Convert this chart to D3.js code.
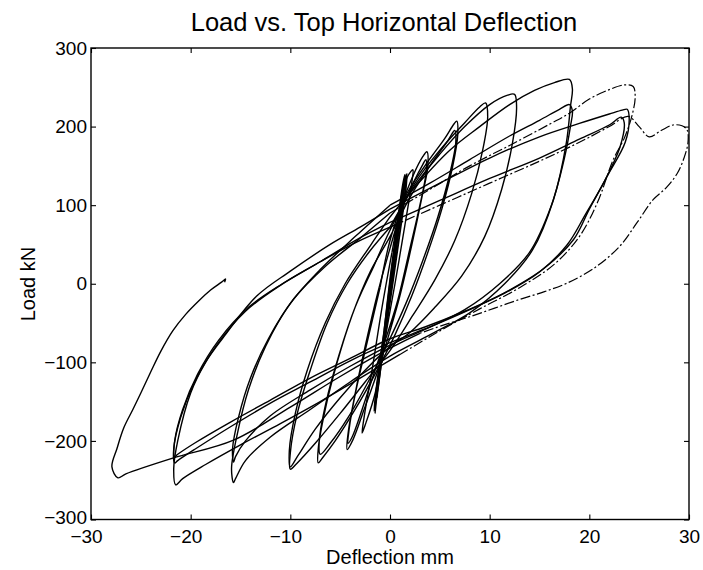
<!DOCTYPE html>
<html><head><meta charset="utf-8">
<script src="https://cdn.jsdelivr.net/npm/d3@7"></script>
<style>body{margin:0;background:#fff}svg{display:block}</style></head>
<body><svg id="c" width="703" height="570"></svg>
<script>
const xTicks=[-30,-20,-10,0,10,20,30];
const yTicks=[-300,-200,-100,0,100,200,300];
// Load (kN) vs deflection (mm), in test order
const stage0=[[0,0],[0.4,45],[0.8,90],[0.5,50],[0,0],[-0.4,-50],[-0.8,-100],[-0.5,-60],[0,-5],[0.6,60],[1.2,120],[1.0,95],[0.3,20],[-0.3,-40],[-1.0,-115],[-1.3,-145],[-1.0,-110],[-0.2,-15],[0.6,65],[1.3,128],[1.5,139],[1.4,115],[0.6,40],[-0.4,-50],[-1.2,-130],[-1.5,-165],[-1.3,-140],[-0.5,-55],[0.3,30],[1.1,105],[1.5,135],[1.3,112],[0.4,30],[-0.6,-70],[-1.3,-140],[-1.6,-162],[-1.4,-135],[-0.4,-45]];
const stage0b=[[0.5,45],[1.2,115],[1.6,138],[1.5,118],[0.8,50],[-0.2,-35],[-1.0,-110],[-1.4,-150],[-1.2,-125],[-0.3,-40],[0.7,60],[1.4,125],[1.7,140],[1.6,120],[0.9,55],[0,-25],[-0.9,-105],[-1.5,-158],[-1.3,-130],[-0.6,-60]];
const stage1=[[0.4,40],[1.4,125],[2.1,143],[2.3,145],[2.2,130],[1.5,75],[0.5,0],[-0.5,-70],[-1.5,-140],[-2.5,-180],[-2.8,-190],[-2.6,-170],[-1.8,-110],[-0.8,-30],[0.2,40]];
const stage2=[[1.2,100],[2.4,140],[3.3,162],[3.7,168],[3.8,150],[3.2,110],[2.2,50],[1.0,-15],[0,-60],[-1.2,-110],[-2.6,-160],[-3.7,-198],[-4.3,-211],[-4.2,-190],[-3.5,-140],[-2.5,-80],[-1.2,-10],[0,45],[1.2,95],[2.4,130],[3.3,152],[3.6,158],[3.6,140],[3.0,100],[2.0,45],[0.8,-20],[-0.3,-65],[-1.5,-110],[-2.8,-160],[-3.8,-195],[-4.2,-203],[-4.1,-185],[-3.4,-135],[-2.3,-75],[-1.0,-5]];
const stage3=[[0,55],[1.5,110],[3.5,150],[5.5,185],[6.4,203],[6.7,207],[6.8,190],[6.3,150],[5.2,95],[3.8,40],[2.2,-15],[0.5,-65],[-1.5,-115],[-3.5,-160],[-5.5,-200],[-6.8,-222],[-7.2,-228],[-7.2,-210],[-6.5,-160],[-5.3,-100],[-3.8,-40],[-2,15],[0,60],[2,110],[4,150],[5.8,182],[6.5,195],[6.6,180],[6.0,140],[4.8,85],[3.3,30],[1.6,-25],[-0.2,-75],[-2.2,-125],[-4.2,-170],[-6,-203],[-7,-217],[-7.1,-200],[-6.4,-150],[-5.1,-90],[-3.5,-30],[-1.7,20]];
const stage4=[[0,68],[2.5,128],[5,170],[7.5,205],[9,225],[9.6,230],[9.8,212],[9.3,170],[8.2,115],[6.5,55],[4.5,5],[2.3,-40],[0,-85],[-2.5,-125],[-5,-165],[-7.5,-203],[-9.3,-228],[-10,-236],[-10,-215],[-9.3,-165],[-8,-110],[-6.3,-50],[-4.3,0],[-2,42],[0,72]];
const stage5=[[2.5,125],[5,165],[7.5,200],[10,228],[11.8,240],[12.5,241],[12.7,225],[12.3,180],[11.2,120],[9.5,60],[7.2,10],[4.5,-30],[2,-62],[0,-80],[-2.5,-110],[-5,-145],[-7.5,-185],[-9.3,-220],[-10,-233],[-10.1,-212],[-9.5,-165],[-8.3,-110],[-6.5,-50],[-4.5,0],[-2,48],[0,85]];
const stage6=[[3,130],[6,170],[9,200],[12,228],[14.5,246],[16.5,256],[18,260],[18.3,248],[18.1,225],[17.7,180],[16.4,107],[14.3,43],[11.5,0],[8,-37],[4,-65],[0,-92],[-4,-125],[-8,-160],[-12,-195],[-14.5,-225],[-15.5,-248],[-15.7,-253],[-15.9,-235],[-15.3,-190],[-14.2,-135],[-12.5,-80],[-10,-25],[-7,18],[-3.5,60],[0,100]];
const stage7=[[4,128],[8,158],[12,188],[15,208],[17,222],[18,228],[18.3,220],[18.1,200],[17.5,160],[16.2,100],[14,40],[11,0],[7.5,-33],[3.5,-58],[0,-78],[-4,-105],[-8,-135],[-12,-168],[-14.5,-200],[-15.5,-220],[-15.7,-227],[-15.8,-210],[-15.2,-170],[-14,-120],[-12.2,-70],[-9.7,-20],[-6.5,22],[-3,58],[0,90]];
const stage8a=[[4,120],[8,150],[12,176],[16,203],[18,217],[20,235],[22,247],[23.5,253],[24.4,251],[24.6,238],[24.3,215],[23.5,185],[22.4,158],[20.8,103],[19,60],[16.5,25],[13,-5],[9,-32],[5,-60],[1,-90]];
const stage8b=[[-3,-120],[-7,-150],[-11,-178],[-15,-205],[-18.5,-230],[-20.8,-248],[-21.5,-256],[-21.7,-235],[-21.3,-200],[-20,-139],[-18.5,-100],[-16.7,-68],[-13.4,-16],[-10,16],[-6,50],[-3,72],[0,95]];
const stage9=[[5,128],[10,160],[15,187],[19,204],[22,216],[23.3,221],[23.8,222],[24,210],[23.6,180],[21.8,137],[20,95],[18.4,56],[15.5,20],[12,-8],[8,-33],[4,-55],[0,-75],[-4,-98],[-8,-125],[-12,-152],[-16,-182],[-19.5,-210],[-21.3,-225],[-21.6,-228],[-21.7,-210],[-21,-170],[-19.6,-125],[-17.5,-80],[-14.5,-35],[-11,-2],[-7,28],[-3.5,55],[0,78]];
const stage10=[[5,106],[10,134],[15,160],[19,184],[22,202],[23.2,212],[23.5,205],[23.1,175],[21.5,130],[19.6,88],[17.8,50],[15,15],[11.5,-12],[7.5,-35],[3.5,-55],[0,-70],[-4,-95],[-8,-120],[-12,-148],[-16,-176],[-19.5,-202],[-21.3,-217],[-21.6,-220],[-21.6,-200],[-20.8,-160],[-19.3,-115],[-17.2,-72],[-14.2,-30],[-10.8,0],[-7,28],[-3.5,52],[0,72]];
const stage11a=[[5,100],[10,128],[15,156],[19,180],[22,200],[23.9,213],[25,200],[26,187],[27.2,195],[28.4,202],[29.3,201],[29.8,196],[29.9,180],[29.5,160],[28.8,140],[27.7,122],[26.4,107],[24.8,78],[23,47],[20.5,20],[17.8,1],[15.5,-10],[13,-20],[10.5,-31],[8,-42],[5.5,-52],[3,-63]];
const stage11b=[[0,-82],[-5,-118],[-10,-157],[-15.7,-199],[-21.8,-222],[-26.5,-242],[-27.3,-247],[-27.9,-233],[-27.4,-210],[-26.7,-183],[-25.8,-160],[-25,-139],[-24,-112],[-23,-86],[-21.8,-60],[-20.5,-39],[-19.2,-22],[-18,-8],[-16.9,2],[-16.5,6],[-16.6,2]];

const stages=[stage0,stage0b,stage1,stage2,stage3,stage4,stage5,stage6,stage7,stage8a,stage8b,stage9,stage10,stage11a,stage11b];
const dashedStages=[9,13];

const svg=d3.select('#c');
const x=d3.scaleLinear().domain([-30,30]).range([91,689]);
const y=d3.scaleLinear().domain([-300,300]).range([519.5,48]);
const font='"Liberation Sans", Arial, Helvetica, sans-serif';

const line=d3.line().x(d=>x(d[0])).y(d=>y(d[1])).curve(d3.curveCatmullRom.alpha(0.5));
const g=svg.append('g');
stages.forEach((s,i)=>{
  const pts=i===0?s:[stages[i-1][stages[i-1].length-1]].concat(s);
  const p=g.append('path').attr('d',line(pts)).attr('fill','none')
    .attr('stroke','#000').attr('stroke-width',1.4).attr('stroke-linejoin','round');
  if(dashedStages.includes(i)) p.attr('stroke-dasharray','10,2.5,2,2.5').attr('stroke-width',1.2);
});

function styleAxis(sel){sel.select('.domain').remove();sel.selectAll('line').attr('stroke','#000').attr('stroke-width',1.1);
  sel.selectAll('text').attr('fill','#000').style('font-family',font).style('font-size','19px');}
const fmt=d=>d<0?'\u2212'+Math.abs(d):d;
const axB=svg.append('g').attr('transform',`translate(0,${y(-300)})`)
  .call(d3.axisBottom(x).tickValues(xTicks).tickSize(-5).tickPadding(10).tickFormat(fmt));
styleAxis(axB);
axB.selectAll('text').attr('dx',d=>d<0?-5:0);
const axL=svg.append('g').attr('transform',`translate(${x(-30)},0)`)
  .call(d3.axisLeft(y).tickValues(yTicks).tickSize(-5).tickPadding(4).tickFormat(fmt));
styleAxis(axL);
axL.selectAll('text').attr('dy',d=>d===-300?'0.2em':'0.32em');
const axT=svg.append('g').attr('transform',`translate(0,${y(300)})`)
  .call(d3.axisTop(x).tickValues(xTicks).tickSize(-5).tickFormat(''));
styleAxis(axT);
const axR=svg.append('g').attr('transform',`translate(${x(30)},0)`)
  .call(d3.axisRight(y).tickValues(yTicks).tickSize(-5).tickFormat(''));
styleAxis(axR);
svg.append('rect').attr('x',x(-30)).attr('y',y(300)).attr('width',x(30)-x(-30)).attr('height',y(-300)-y(300))
  .attr('fill','none').attr('stroke','#000').attr('stroke-width',1.4);

svg.append('text').attr('x',384).attr('y',31).attr('text-anchor','middle')
  .style('font-family',font).style('font-size','25.5px').attr('fill','#000').text('Load vs. Top Horizontal Deflection');
svg.append('text').attr('x',390).attr('y',564).attr('text-anchor','middle')
  .style('font-family',font).style('font-size','20px').attr('fill','#000').text('Deflection mm');
svg.append('text').attr('transform','translate(35,284) rotate(-90)').attr('text-anchor','middle')
  .style('font-family',font).style('font-size','20px').attr('fill','#000').text('Load kN');
</script></body></html>
